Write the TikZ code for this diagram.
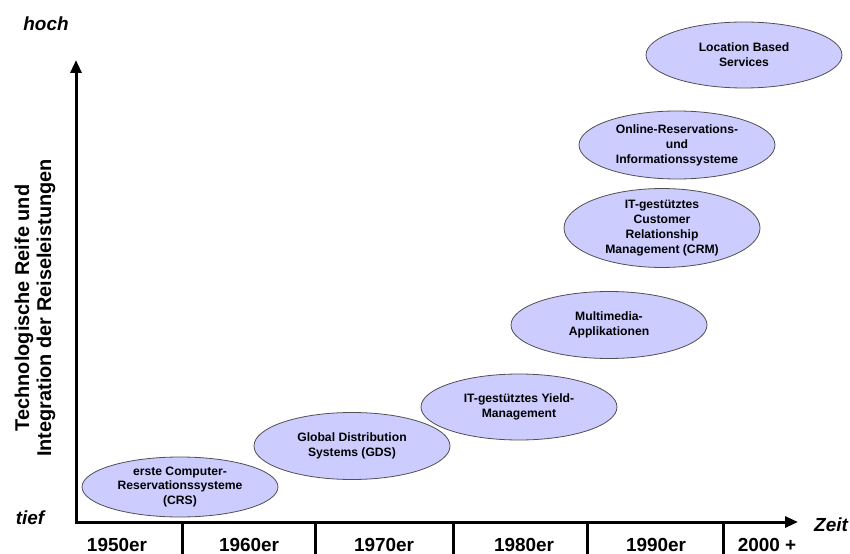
\documentclass[tikz,border=0pt]{standalone}
\usepackage{fontspec}
\setmainfont{Liberation Sans}
\usetikzlibrary{shapes.geometric,arrows.meta}
\definecolor{ellfill}{HTML}{CCCCFF}
\definecolor{ellline}{HTML}{505050}
\tikzset{
  ev/.style={ellipse, draw=ellline, fill=ellfill, line width=0.8bp,
    minimum width=196bp, minimum height=66bp, inner sep=0pt,
    align=center, font=\fontsize{12.2}{15}\selectfont\bfseries},
  axis/.style={line width=3bp, -{Triangle[length=13bp,width=11bp]}},
  tick/.style={line width=3bp},
  axlab/.style={font=\fontsize{19}{22}\selectfont\bfseries\itshape},
  year/.style={font=\fontsize{19}{22}\selectfont\bfseries, anchor=base, inner sep=1bp},
}
\begin{document}
\begin{tikzpicture}[x=1bp,y=-1bp]
\useasboundingbox (0,0) rectangle (850,554);
% axes
\coordinate (Ytop) at (76,60);
\coordinate (Xend) at (798,522);
\coordinate (Ybot) at (76,523.5);
\coordinate (Xbeg) at (74.5,522);
\draw[axis] (Ybot) -- (Ytop);
\draw[axis] (Xbeg) -- (Xend);
% ticks
\foreach \x [count=\i] in {182,315,453,587,723}{
  \coordinate (t\i a) at (\x,522);
  \coordinate (t\i b) at (\x,556);
  \draw[tick] (t\i a) -- (t\i b);
}
% years
\node[year] (y1) at (117,551) {1950er};
\node[year] (y2) at (249,551) {1960er};
\node[year] (y3) at (384,551) {1970er};
\node[year] (y4) at (524,551) {1980er};
\node[year] (y5) at (656,551) {1990er};
\node[year] (y6) at (767,551) {2000 +};
% axis labels
\node[axlab] (hoch) at (46,24) {hoch};
\node[axlab] (tief) at (30,518) {tief};
\node[axlab] (zeit) at (831,525) {Zeit};
\node[rotate=90, align=center, font=\fontsize{20}{22}\selectfont\bfseries] (ylab) at (35,308)
  {Technologische Reife und\\Integration der Reiseleistungen};
% ellipses
\node[ev] (lbs) at (744,55) {Location Based\\Services};
\node[ev, minimum height=68bp] (online) at (677,145) {Online-Reservations-\\und\\Informationssysteme};
\node[ev, minimum height=68bp] (crm) at (662,228) {IT-gestütztes\\Customer\\Relationship\\Management (CRM)};
\node[ev, minimum height=67bp] (mm) at (609,325) {Multimedia-\\Applikationen};
\node[ev] (yield) at (519,407) {IT-gestütztes Yield-\\Management};
\node[ev, minimum height=67bp] (gds) at (352,446) {Global Distribution\\Systems (GDS)};
\node[ev, minimum height=60bp] (crs) at (180,487) {erste Computer-\\Reservationssysteme\\(CRS)};
\end{tikzpicture}
\end{document}
